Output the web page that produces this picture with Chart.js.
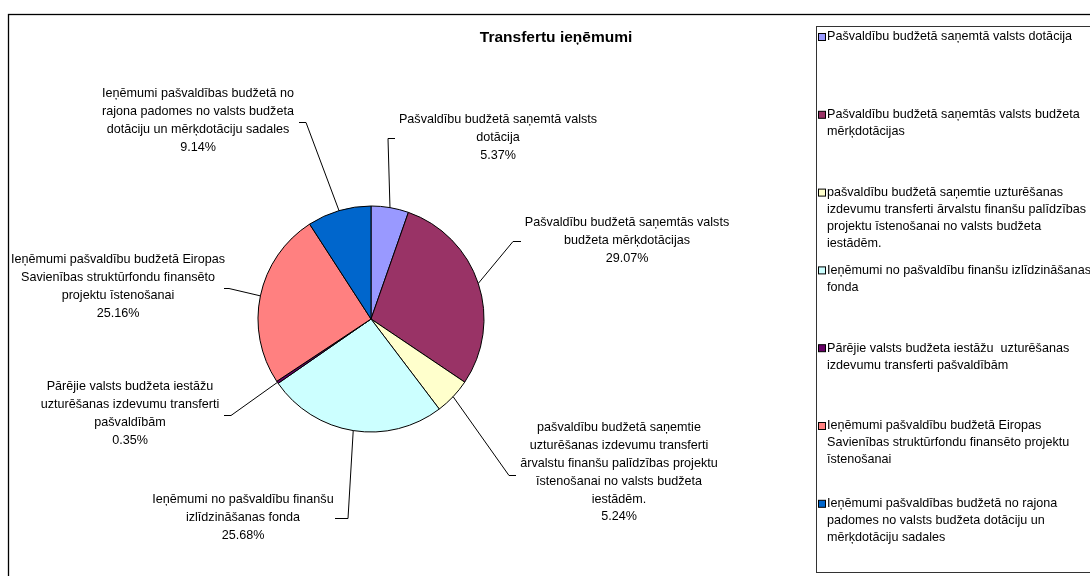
<!DOCTYPE html>
<html>
<head>
<meta charset="utf-8">
<script src="https://cdn.jsdelivr.net/npm/chart.js@4/dist/chart.umd.min.js"></script>
<style>
  html, body { margin: 0; padding: 0; background: #fff; }
  #wrap { width: 1090px; height: 576px; }
</style>
</head>
<body>
<div id="wrap"><canvas id="pieChart" width="1090" height="576"></canvas></div>
<script>
const chartTitle = 'Transfertu ieņēmumi';

const categories = [
    'Pašvaldību budžetā saņemtā valsts dotācija',
    'Pašvaldību budžetā saņemtās valsts budžeta mērķdotācijas',
    'pašvaldību budžetā saņemtie uzturēšanas izdevumu transferti ārvalstu finanšu palīdzības projektu īstenošanai no valsts budžeta iestādēm.',
    'Ieņēmumi no pašvaldību finanšu izlīdzināšanas fonda',
    'Pārējie valsts budžeta iestāžu  uzturēšanas izdevumu transferti pašvaldībām',
    'Ieņēmumi pašvaldību budžetā Eiropas Savienības struktūrfondu finansēto projektu īstenošanai',
    'Ieņēmumi pašvaldības budžetā no rajona padomes no valsts budžeta dotāciju un mērķdotāciju sadales'
];

// percent shares
const shares = [5.37, 29.07, 5.24, 25.68, 0.35, 25.16, 9.14];

const sliceColors = ['#9999FF', '#993366', '#FFFFCC', '#CCFFFF', '#660066', '#FF8080', '#0066CC'];

// wrapped text of the labels next to the pie
const pieLabelLines = [
    ['Pašvaldību budžetā saņemtā valsts', 'dotācija'],
    ['Pašvaldību budžetā saņemtās valsts', 'budžeta mērķdotācijas'],
    ['pašvaldību budžetā saņemtie', 'uzturēšanas izdevumu transferti', 'ārvalstu finanšu palīdzības projektu', 'īstenošanai no valsts budžeta', 'iestādēm.'],
    ['Ieņēmumi no pašvaldību finanšu', 'izlīdzināšanas fonda'],
    ['Pārējie valsts budžeta iestāžu', 'uzturēšanas izdevumu transferti', 'pašvaldībām'],
    ['Ieņēmumi pašvaldību budžetā Eiropas', 'Savienības struktūrfondu finansēto', 'projektu īstenošanai'],
    ['Ieņēmumi pašvaldības budžetā no', 'rajona padomes no valsts budžeta', 'dotāciju un mērķdotāciju sadales']
];

// wrapped text of the legend entries
const legendLines = [
    ['Pašvaldību budžetā saņemtā valsts dotācija'],
    ['Pašvaldību budžetā saņemtās valsts budžeta', 'mērķdotācijas'],
    ['pašvaldību budžetā saņemtie uzturēšanas', 'izdevumu transferti ārvalstu finanšu palīdzības', 'projektu īstenošanai no valsts budžeta', 'iestādēm.'],
    ['Ieņēmumi no pašvaldību finanšu izlīdzināšanas', 'fonda'],
    ['Pārējie valsts budžeta iestāžu  uzturēšanas', 'izdevumu transferti pašvaldībām'],
    ['Ieņēmumi pašvaldību budžetā Eiropas', 'Savienības struktūrfondu finansēto projektu', 'īstenošanai'],
    ['Ieņēmumi pašvaldības budžetā no rajona', 'padomes no valsts budžeta dotāciju un', 'mērķdotāciju sadales']
];

// label placement, offsets from the pie centre: text block centre / first line, leader elbow, leader end
const labelPlacement = [
    { tx: 127, ty: -199, ex: 17, ey: -181, hx: 24 },
    { tx: 256, ty: -96, ex: 142, ey: -78, hx: 150 },
    { tx: 248, ty: 109, ex: 138, ey: 156, hx: 145 },
    { tx: -128, ty: 181, ex: -23, ey: 199, hx: -36 },
    { tx: -241, ty: 68, ex: -140, ey: 96, hx: -147 },
    { tx: -253, ty: -59, ex: -142, ey: -31, hx: -147 },
    { tx: -173, ty: -225, ex: -65, ey: -197, hx: -72 }
];

const FONT = '"Liberation Sans", Arial, sans-serif';
const lineGap = 17.8;

const frameAndLabels = {
    id: 'frameAndLabels',
    beforeDraw(chart) {
        const ctx = chart.ctx;
        ctx.save();
        ctx.fillStyle = '#fff';
        ctx.fillRect(0, 0, chart.width, chart.height);
        ctx.strokeStyle = '#000';
        ctx.lineWidth = 1.3;
        ctx.strokeRect(8.5, 14.5, 1100, 600);
        ctx.restore();
    },
    afterDraw(chart) {
        const ctx = chart.ctx;
        const meta = chart.getDatasetMeta(0);
        ctx.save();

        // title
        ctx.fillStyle = '#000';
        ctx.font = 'bold 15.5px ' + FONT;
        ctx.textAlign = 'center';
        ctx.textBaseline = 'middle';
        ctx.fillText(chartTitle, 556, 38);

        // labels with leader lines
        ctx.font = '12.6px ' + FONT;
        meta.data.forEach((arc, i) => {
            const p = arc.getProps(['x', 'y', 'startAngle', 'endAngle', 'outerRadius'], true);
            const mid = (p.startAngle + p.endAngle) / 2;
            const sx = p.x + Math.cos(mid) * p.outerRadius;
            const sy = p.y + Math.sin(mid) * p.outerRadius;
            const pl = labelPlacement[i];
            ctx.strokeStyle = '#000';
            ctx.lineWidth = 1;
            ctx.beginPath();
            ctx.moveTo(sx, sy);
            ctx.lineTo(p.x + pl.ex, p.y + pl.ey + 0.5);
            ctx.lineTo(p.x + pl.hx, p.y + pl.ey + 0.5);
            ctx.stroke();

            const lines = pieLabelLines[i].concat([shares[i].toFixed(2) + '%']);
            ctx.fillStyle = '#000';
            lines.forEach((t, k) => {
                ctx.fillText(t, p.x + pl.tx, p.y + pl.ty + k * lineGap);
            });
        });

        // legend box
        ctx.strokeStyle = '#333';
        ctx.lineWidth = 1;
        ctx.strokeRect(816.5, 26.5, 300, 546);
        ctx.textAlign = 'left';
        legendLines.forEach((lines, i) => {
            const y0 = 37 + i * 77.8;
            ctx.fillStyle = sliceColors[i];
            ctx.fillRect(818.5, y0 - 3.5, 7, 7);
            ctx.strokeStyle = '#000';
            ctx.strokeRect(818.5, y0 - 3.5, 7, 7);
            ctx.fillStyle = '#000';
            lines.forEach((t, k) => ctx.fillText(t, 827, y0 + k * 17));
        });
        ctx.restore();
    }
};

new Chart(document.getElementById('pieChart'), {
    type: 'pie',
    data: {
        labels: categories,
        datasets: [{
            data: shares,
            backgroundColor: sliceColors,
            borderColor: '#000',
            borderWidth: 1
        }]
    },
    options: {
        responsive: false,
        animation: false,
        layout: {
            padding: { left: 257.5, right: 605.5, top: 205.5, bottom: 143.5 }
        },
        plugins: {
            legend: { display: false },
            title: { display: false },
            tooltip: { enabled: false }
        }
    },
    plugins: [frameAndLabels]
});
</script>
</body>
</html>
